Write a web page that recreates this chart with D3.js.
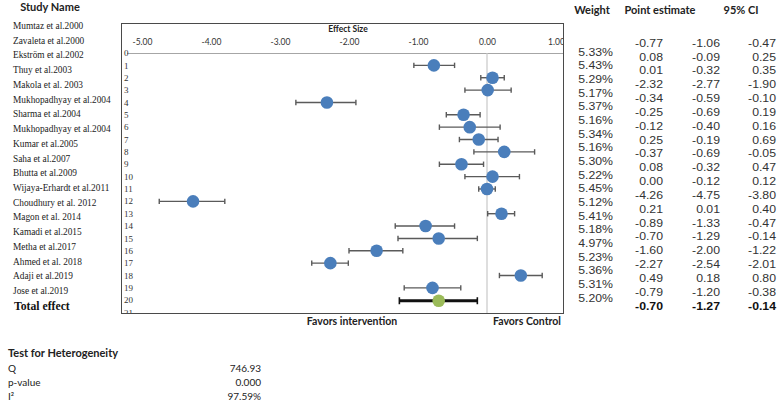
<!DOCTYPE html>
<html><head><meta charset="utf-8">
<script src="https://cdn.jsdelivr.net/npm/d3@7"></script>
<style>
html,body{margin:0;padding:0;background:#fff;}
svg{display:block;}
</style></head>
<body>
<svg id="chart" width="777" height="402"></svg>
<script>
// ---- data ----
const studies = ["Mumtaz et al.2000","Zavaleta et al.2000","Ekström et al.2002","Thuy et al.2003","Makola et al. 2003","Mukhopadhyay et al.2004","Sharma et al.2004","Mukhopadhyay et al.2004","Kumar et al.2005","Saha et al.2007","Bhutta et al.2009","Wijaya-Erhardt et al.2011","Choudhury et al. 2012","Magon et al. 2014","Kamadi et al.2015","Metha et al.2017","Ahmed et al. 2018","Adaji et al.2019","Jose et al.2019"];
const estimates = [-0.77,0.08,0.01,-2.32,-0.34,-0.25,-0.12,0.25,-0.37,0.08,0.00,-4.26,0.21,-0.89,-0.70,-1.60,-2.27,0.49,-0.79];
const lowerCI = [-1.06,-0.09,-0.32,-2.77,-0.59,-0.69,-0.40,-0.19,-0.69,-0.32,-0.12,-4.75,0.01,-1.33,-1.29,-2.00,-2.54,0.18,-1.20];
const upperCI = [-0.47,0.25,0.35,-1.90,-0.10,0.19,0.16,0.69,-0.05,0.47,0.12,-3.80,0.40,-0.47,-0.14,-1.22,-2.01,0.80,-0.38];
const weights = [5.33,5.43,5.29,5.17,5.37,5.16,5.34,5.16,5.30,5.22,5.45,5.12,5.41,5.18,4.97,5.23,5.36,5.31,5.20];
const totalLabel = "Total effect";
const totalEstimate = -0.70, totalLower = -1.27, totalUpper = -0.14;
const xTicks = [-5,-4,-3,-2,-1,0,1];
const rowIndex = d3.range(0,22);
const hetLabels = ["Q","p-value","I²"];
const hetValues = ["746.93","0.000","97.59%"];

// ---- drawing ----
const svg = d3.select("#chart");
const sans = "Lato, 'Liberation Sans', sans-serif";
const arial = "'Liberation Sans', Arial, sans-serif";
const serif = "'Liberation Serif', 'Times New Roman', serif";

const frame = {l:121, t:23, r:563, b:313};
const x = d3.scaleLinear().domain([-5,1]).range([142,556]);
const y = d3.scaleLinear().domain([0,21]).range([53,312.6]);

svg.append("defs").append("clipPath").attr("id","pc")
  .append("rect").attr("x",frame.l).attr("y",frame.t).attr("width",frame.r-frame.l).attr("height",frame.b-frame.t);

const plot = svg.append("g").attr("clip-path","url(#pc)");

// axis line and zero line
plot.append("line").attr("x1",127).attr("x2",frame.r).attr("y1",y(0)+0.5).attr("y2",y(0)+0.5)
  .attr("stroke","#a6a6a6").attr("stroke-width",1);
plot.append("line").attr("x1",x(0)).attr("x2",x(0)).attr("y1",y(0)).attr("y2",frame.b)
  .attr("stroke","#c8c8c8").attr("stroke-width",1.2);

// row index labels
plot.selectAll("text.ri").data(rowIndex).join("text").attr("class","ri")
  .attr("x",124).attr("y",d=>y(d)).attr("dy","0.35em")
  .attr("font-family",serif).attr("font-size",9).attr("fill","#333")
  .text(d=>d);

// top axis tick labels
const axis = d3.axisTop(x).tickValues(xTicks).tickSize(0).tickPadding(0).tickFormat(d=>d.toFixed(2));
const ag = plot.append("g").attr("transform","translate(0,45)").call(axis);
ag.select(".domain").remove();
ag.selectAll("text").attr("font-family",sans).attr("font-size",8.5).attr("fill","#333");

svg.append("text").attr("x",348).attr("y",32).attr("text-anchor","middle")
  .attr("font-family",sans).attr("font-weight","bold").attr("font-size",8.5).attr("fill","#222")
  .text("Effect Size");

// study rows
const rows = studies.map((s,i)=>({s, e:estimates[i], lo:lowerCI[i], hi:upperCI[i], r:i+1}));
const eb = plot.selectAll("g.eb").data(rows).join("g").attr("class","eb");
eb.append("line").attr("x1",d=>x(d.lo)).attr("x2",d=>x(d.hi)).attr("y1",d=>y(d.r)).attr("y2",d=>y(d.r))
  .attr("stroke","#5a5a5a").attr("stroke-width",1.4);
eb.append("line").attr("x1",d=>x(d.lo)).attr("x2",d=>x(d.lo)).attr("y1",d=>y(d.r)-2.7).attr("y2",d=>y(d.r)+2.7)
  .attr("stroke","#5a5a5a").attr("stroke-width",1.4);
eb.append("line").attr("x1",d=>x(d.hi)).attr("x2",d=>x(d.hi)).attr("y1",d=>y(d.r)-2.7).attr("y2",d=>y(d.r)+2.7)
  .attr("stroke","#5a5a5a").attr("stroke-width",1.4);
eb.append("circle").attr("cx",d=>x(d.e)).attr("cy",d=>y(d.r)).attr("r",6.3)
  .attr("fill","#4a7ebb");

// total
const tr = 20;
plot.append("line").attr("x1",x(totalLower)).attr("x2",x(totalUpper)).attr("y1",y(tr)+0.5).attr("y2",y(tr)+0.5)
  .attr("stroke","#111").attr("stroke-width",3);
[totalLower,totalUpper].forEach(v=>{
  plot.append("line").attr("x1",x(v)).attr("x2",x(v)).attr("y1",y(tr)-3).attr("y2",y(tr)+4)
    .attr("stroke","#111").attr("stroke-width",1.6);
});
plot.append("circle").attr("cx",x(totalEstimate)).attr("cy",y(tr)+0.5).attr("r",6.3).attr("fill","#9bbb59");

// frame
svg.append("rect").attr("x",frame.l+0.5).attr("y",frame.t+0.5).attr("width",frame.r-frame.l).attr("height",frame.b-frame.t)
  .attr("fill","none").attr("stroke","#4a4a4a").attr("stroke-width",1);

// favors labels
svg.append("text").attr("x",352).attr("y",325).attr("text-anchor","middle")
  .attr("font-family",sans).attr("font-weight","bold").attr("font-size",10.5).attr("fill","#222").text("Favors intervention");
svg.append("text").attr("x",527).attr("y",325).attr("text-anchor","middle")
  .attr("font-family",sans).attr("font-weight","bold").attr("font-size",10.5).attr("fill","#222").text("Favors Control");

// study names
svg.append("text").attr("x",50).attr("y",11).attr("text-anchor","middle")
  .attr("font-family",sans).attr("font-weight","bold").attr("font-size",11).attr("fill","#222").text("Study Name");
const nameY = i => 25 + i*14.74;
svg.selectAll("text.nm").data(studies).join("text").attr("class","nm")
  .attr("transform",(d,i)=>`translate(13,${nameY(i)}) scale(0.85,1)`).attr("dy","0.35em")
  .attr("font-family",serif).attr("font-size",11).attr("fill","#222").text(d=>d);
svg.append("text").attr("transform",`translate(14,${nameY(19)}) scale(0.9,1)`).attr("dy","0.35em")
  .attr("font-family",serif).attr("font-weight","bold").attr("font-size",13).attr("fill","#111").text(totalLabel);

// right headers
const hdr = [["Weight",592],["Point estimate",660],["95% CI",741]];
svg.selectAll("text.hd").data(hdr).join("text").attr("class","hd")
  .attr("x",d=>d[1]).attr("y",14).attr("text-anchor","middle")
  .attr("font-family",sans).attr("font-weight","bold").attr("font-size",11).attr("fill","#222").text(d=>d[0]);

// weights
const wY = i => 52 + i*13.67;
svg.selectAll("text.wt").data(weights).join("text").attr("class","wt")
  .attr("transform",(d,i)=>`translate(613,${wY(i)}) scale(1.17,1)`).attr("dy","0.35em").attr("text-anchor","end")
  .attr("font-family",arial).attr("font-size",10.5).attr("fill","#333").text(d=>d.toFixed(2)+"%");

// estimate columns
const eY = i => 43 + i*13.84;
const cols = [[estimates,totalEstimate,663],[lowerCI,totalLower,720],[upperCI,totalUpper,776]];
cols.forEach(([arr,tot,cx])=>{
  const g = svg.append("g");
  g.selectAll("text").data(arr).join("text")
    .attr("transform",(d,i)=>`translate(${cx},${eY(i)}) scale(1.17,1)`).attr("dy","0.35em").attr("text-anchor","end")
    .attr("font-family",arial).attr("font-size",10.5).attr("fill","#333").text(d=>d.toFixed(2));
  g.append("text").attr("transform",`translate(${cx},${eY(19)}) scale(1.17,1)`).attr("dy","0.35em").attr("text-anchor","end")
    .attr("font-family",arial).attr("font-weight","bold").attr("font-size",10.5).attr("fill","#111").text(tot.toFixed(2));
});

// heterogeneity
svg.append("text").attr("x",8).attr("y",357).attr("font-family",sans).attr("font-weight","bold")
  .attr("font-size",11).attr("fill","#222").text("Test for Heterogeneity");
svg.selectAll("text.hl").data(hetLabels).join("text").attr("class","hl")
  .attr("x",8).attr("y",(d,i)=>368+i*14).attr("dy","0.35em").attr("font-family",sans).attr("font-size",10)
  .attr("fill","#222").text(d=>d);
svg.selectAll("text.hv").data(hetValues).join("text").attr("class","hv")
  .attr("x",261).attr("y",(d,i)=>368+i*14).attr("dy","0.35em").attr("text-anchor","end").attr("font-family",sans).attr("font-size",10)
  .attr("fill","#222").text(d=>d);
</script>
</body></html>
